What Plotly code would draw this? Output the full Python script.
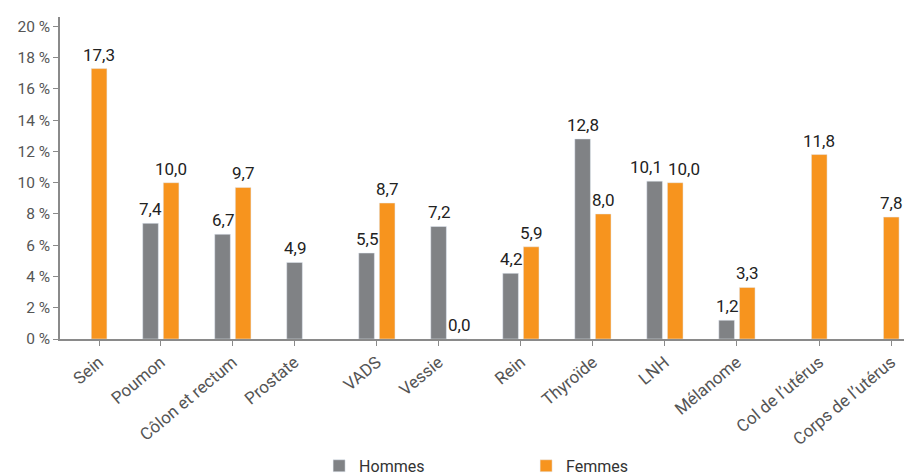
import plotly.graph_objects as go

categories = ["Sein", "Poumon", "Côlon et rectum", "Prostate", "VADS", "Vessie",
              "Rein", "Thyroïde", "LNH", "Mélanome", "Col de l’utérus", "Corps de l’utérus"]
hommes = [None, 7.4, 6.7, 4.9, 5.5, 7.2, 4.2, 12.8, 10.1, 1.2, None, None]
femmes = [17.3, 10.0, 9.7, None, 8.7, 0.0, 5.9, 8.0, 10.0, 3.3, 11.8, 7.8]
y_ticks = [0, 2, 4, 6, 8, 10, 12, 14, 16, 18, 20]

GREY = "#808285"
ORANGE = "#f7941e"
FONT = "Roboto"

bargap = 0.428
bargroupgap = 0.24
slot = (1 - bargap) / 2
offs = (-slot / 2, slot / 2)

xs = list(range(len(categories)))
# tick under the centre of the bars actually drawn (value > 0)
tickvals = []
for i in xs:
    present = [o for o, v in zip(offs, (hommes[i], femmes[i])) if v]
    tickvals.append(i + sum(present) / len(present))

fig = go.Figure()
fig.add_trace(go.Bar(x=xs, y=hommes, name="Hommes", marker_color=GREY))
fig.add_trace(go.Bar(x=xs, y=femmes, name="Femmes", marker_color=ORANGE))

# value labels (pushed apart when the two bars are almost the same height)
annotations = []
for i in xs:
    h, f = hommes[i], femmes[i]
    close = h is not None and f is not None and abs(h - f) < 1
    for k, (o, v) in enumerate(zip(offs, (h, f))):
        if v is None:
            continue
        annotations.append(dict(
            x=i + o, y=v, xref="x", yref="y", showarrow=False,
            text=f"{v:.1f}".replace(".", ","), yanchor="bottom", yshift=2,
            xshift=(-9 if k == 0 else 9) if close else 0,
            font=dict(family=FONT, size=17, color="#222")))

fig.update_layout(
    width=904, height=475,
    margin=dict(l=60, r=0, t=17, b=136, autoexpand=False),
    barmode="group", bargap=bargap, bargroupgap=bargroupgap,
    plot_bgcolor="white", paper_bgcolor="white",
    font=dict(family=FONT, size=14, color="#555"),
    showlegend=True,
    annotations=annotations,
    legend=dict(orientation="h", x=0.307, xanchor="left", y=-0.394, yanchor="middle",
                entrywidth=162, font=dict(family=FONT, size=16, color="#333")),
    xaxis=dict(range=[-0.4, 11.32], tickmode="array", tickvals=tickvals, ticktext=categories,
               tickangle=-40, showgrid=False, zeroline=False, automargin=False,
               showline=True, linecolor="#8a8a8a", linewidth=1.5,
               ticks="outside", ticklen=5, tickcolor="#8a8a8a",
               tickfont=dict(family=FONT, size=17, color="#555")),
    yaxis=dict(range=[0, 20.6], tickmode="array", tickvals=y_ticks,
               ticktext=[f"{v} %" for v in y_ticks], automargin=False,
               showgrid=False, zeroline=False,
               showline=True, linecolor="#8a8a8a", linewidth=1.5,
               ticks="outside", ticklen=5, tickcolor="#8a8a8a",
               tickfont=dict(family=FONT, size=15.5, color="#555")),
)

fig.write_html("out.html", config={"displayModeBar": False},
               post_script="document.body.style.margin='0';")
